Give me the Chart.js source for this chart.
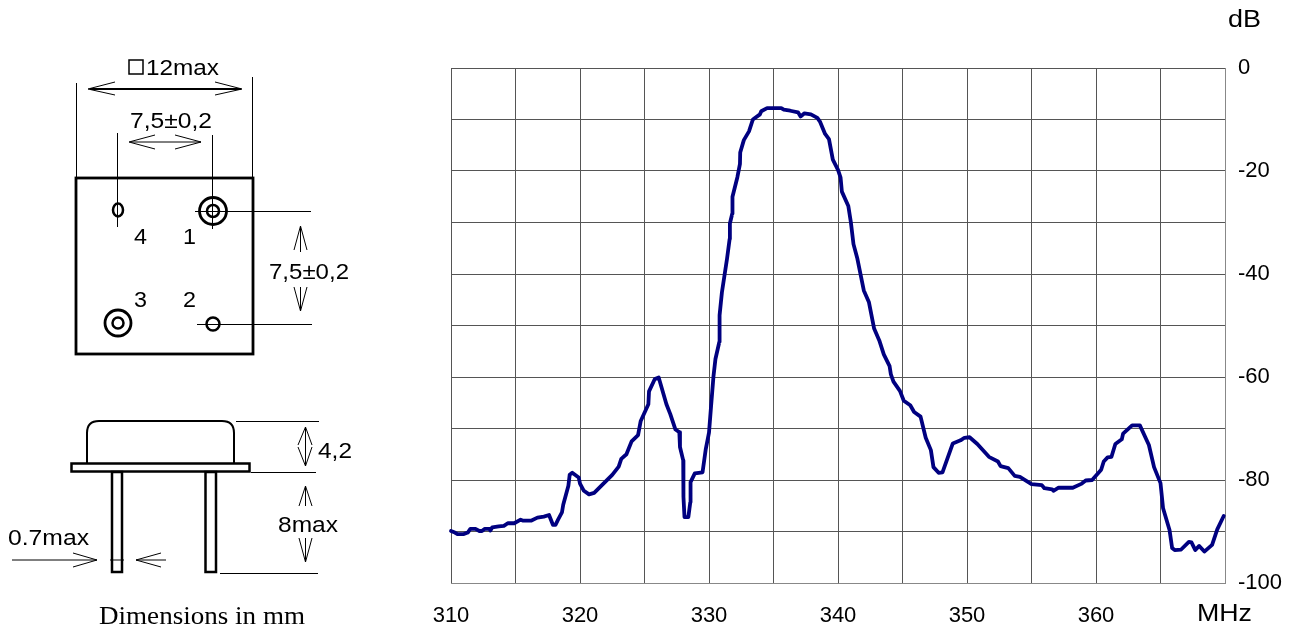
<!DOCTYPE html>
<html><head><meta charset="utf-8">
<script src="https://cdn.jsdelivr.net/npm/chart.js@4"></script>
<style>
html,body{margin:0;padding:0;background:#fff;width:1301px;height:628px;overflow:hidden}
#wrap{position:relative;width:1301px;height:628px}
canvas{position:absolute;left:0;top:0}
svg{position:absolute;left:0;top:0}
svg text{font-family:"Liberation Sans",Arial,sans-serif;font-size:22px;fill:#000;stroke:none}
</style></head><body>
<div id="wrap">
<canvas id="c" width="1301" height="628"></canvas>
<svg width="1301" height="628" viewBox="0 0 1301 628" fill="none" stroke="#000" stroke-width="1">
  <!-- top view -->
  <rect x="76" y="178" width="177" height="176" stroke-width="2.800"/>
  <path d="M76.500 83V178M252.500 77V178"/>
  <path d="M90 89H241" stroke-width="2"/>
  <path d="M115 82L88 89L115 95M215 82L242 89L215 95"/>
  <rect x="129" y="60" width="14" height="14" stroke-width="1.500"/>
  <text x="146" y="75" textLength="73" lengthAdjust="spacingAndGlyphs">12max</text>
  <text x="130" y="128" textLength="82" lengthAdjust="spacingAndGlyphs">7,5±0,2</text>
  <path d="M131 142H201"/>
  <path d="M155 135L129 142L155 149M175 135L201 142L175 149"/>
  <path d="M117.500 133V227M212.500 135V229"/>
  <ellipse cx="118" cy="210" rx="5" ry="6.500" stroke-width="2.500"/>
  <circle cx="213" cy="211" r="13.500" stroke-width="2.800"/>
  <circle cx="213" cy="211" r="6" stroke-width="2.500"/>
  <path d="M195 211.500H311"/>
  <circle cx="118" cy="323" r="13" stroke-width="2.800"/>
  <circle cx="118" cy="323" r="5.500" stroke-width="2.500"/>
  <circle cx="213" cy="324" r="6.500" stroke-width="2.500"/>
  <path d="M197 324.500H312"/>
  <text x="134" y="244" textLength="13" lengthAdjust="spacingAndGlyphs">4</text>
  <text x="183" y="244" textLength="13" lengthAdjust="spacingAndGlyphs">1</text>
  <text x="134" y="307" textLength="13" lengthAdjust="spacingAndGlyphs">3</text>
  <text x="183" y="307" textLength="13" lengthAdjust="spacingAndGlyphs">2</text>
  <path d="M300.500 226V252M300.500 287V311"/>
  <path d="M294 250L300.500 226L307 250M294 287L300.500 311L307 287"/>
  <text x="269" y="279" textLength="80" lengthAdjust="spacingAndGlyphs">7,5±0,2</text>
  <!-- side view -->
  <path d="M87 463V433Q87 421 99 421H222Q234 421 234 433V463" stroke-width="2"/>
  <rect x="71.500" y="463.500" width="178" height="8" stroke-width="2.500"/>
  <rect x="112" y="472" width="10" height="100" stroke-width="2.500"/>
  <rect x="205.500" y="472" width="10.500" height="100" stroke-width="2.500"/>
  <path d="M236 421.500H319M251 472.500H316M220 573.500H318"/>
  <path d="M305.500 427V466"/>
  <path d="M298 445L305.500 427L312 445M298 447L305.500 466L312 447"/>
  <text x="318" y="458" textLength="34" lengthAdjust="spacingAndGlyphs">4,2</text>
  <path d="M305.500 486V506M305.500 538V562"/>
  <path d="M299 506L305.500 486L312 506M299 538L305.500 562L312 538"/>
  <text x="278" y="532" textLength="60" lengthAdjust="spacingAndGlyphs">8max</text>
  <text x="8" y="545" textLength="81" lengthAdjust="spacingAndGlyphs">0.7max</text>
  <path d="M12 560H97M110 560H124M136 560H166"/>
  <path d="M73 553L97 560L73 567M161 553L136 560L161 567"/>
  <text x="99" y="624" textLength="206" lengthAdjust="spacingAndGlyphs" style="font-family:'Liberation Serif',serif;font-size:25px">Dimensions in mm</text>
  <!-- axis units -->
  <text x="1228" y="27" textLength="33" lengthAdjust="spacingAndGlyphs" style="font-size:23px">dB</text>
  <text x="1197" y="621" textLength="55" lengthAdjust="spacingAndGlyphs" style="font-size:24px">MHz</text>
</svg>
</div>
<script>
const frequencyMHz = [
310,310.3,310.5,311,311.3,311.5,311.9,312.2,312.4,312.6,313,313.05,313.2,313.7,314.1,314.4,314.9,
315.4,315.6,316.2,316.7,317.2,317.6,317.9,318.1,318.3,318.6,318.7,319.1,319.2,319.4,319.9,320,320.3,320.7,
321.1,321.7,322.5,323,323.2,323.6,324,324.5,324.7,325.3,325.35,325.8,326.1,326.7,327,327.4,327.7,327.75,
328,328.02,328.1,328.4,328.55,328.57,328.9,329.5,329.75,330,330.15,330.35,330.5,330.8,330.82,331,331.4,331.6,331.62,
331.8,331.82,332.2,332.4,332.42,332.7,333.1,333.4,333.95,334.05,334.5,335.6,335.8,336.3,336.9,337.1,337.4,337.9,
338.4,338.6,339,339.3,339.6,340,340.2,340.3,340.8,341,341.2,341.5,342,342.4,342.8,343.2,343.55,344,344.1,344.3,
344.8,345.1,345.6,345.9,346.4,346.8,347.2,347.4,347.8,348.1,348.9,349.5,349.8,350.2,350.8,351.7,352.4,352.6,
353.2,353.7,354.1,355,355.8,356,356.6,356.7,357.1,358.2,358.9,359.2,359.7,360.4,360.6,360.9,361.2,361.5,362,
362.1,362.8,363.4,364.1,364.5,365,365.2,365.7,365.9,366.1,366.6,367.2,367.4,367.7,368,368.4,369,369.4,369.9
];
const attenuationDb = [
-89.9,-90.2,-90.5,-90.5,-90.2,-89.5,-89.5,-89.9,-89.9,-89.5,-89.5,-89.8,-89.2,-89,-88.9,-88.4,-88.4,
-87.7,-87.9,-87.9,-87.3,-87.1,-86.8,-88.7,-88.7,-87.7,-86.3,-84.8,-81.1,-79,-78.6,-79.5,-80.7,-82.1,-82.8,
-82.5,-81,-79,-77.4,-75.9,-75,-72.5,-71.3,-68.6,-65.3,-62.8,-60.4,-60.1,-65.3,-67.2,-70.2,-70.7,-73.6,
-76.2,-83.3,-87.2,-87.2,-84.3,-80.4,-78.7,-78.5,-74,-70.8,-66,-59.8,-56.5,-53.2,-48,-43.6,-37,-33.2,-30.2,
-28.3,-25,-21.2,-18.6,-16.4,-14,-12.3,-10,-9,-8.4,-7.8,-7.8,-8.1,-8.3,-8.6,-9.4,-8.8,-9,
-9.7,-10.4,-12.8,-13.8,-17.8,-19.8,-21.3,-24,-26.8,-30,-34.2,-37,-43.2,-45.5,-50.6,-52.9,-55.6,-57.9,-59.5,-60.9,
-62.7,-64.6,-65.5,-66.8,-67.7,-71.8,-74.2,-77.5,-78.6,-78.5,-72.9,-72.3,-71.8,-71.7,-73,-75.5,-76.4,-77.3,
-77.7,-79.2,-79.4,-80.8,-81,-81.6,-81.8,-82.1,-81.5,-81.5,-80.7,-80.1,-80,-78,-76.4,-75.6,-75.5,-73,-72.1,
-71,-69.4,-69.4,-73.2,-77.5,-80.6,-85.5,-89.7,-93.2,-93.6,-93.5,-92,-92.1,-93.6,-92.8,-93.9,-92.6,-89.6,-87
];
const xLabelValues = [310,320,330,340,350,360];
const yLabelValues = [0,-20,-40,-60,-80,-100];

new Chart(document.getElementById('c'), {
  type: 'line',
  data: { datasets: [{
    data: frequencyMHz.map((f,i)=>({x:f,y:attenuationDb[i]})),
    borderColor:'#000080', borderWidth:3.8, pointRadius:0, tension:0, fill:false,
    borderJoinStyle:'round', borderCapStyle:'round', clip:false
  }]},
  options: {
    responsive:false, animation:false, devicePixelRatio:1,
    layout:{padding:{left:451,top:68,right:0,bottom:0}},
    plugins:{legend:{display:false},tooltip:{enabled:false},title:{display:false}},
    scales:{
      x:{type:'linear',min:310,max:370,
        afterFit(s){s.height=45;},
        grid:{color:'#555',lineWidth:1,drawTicks:false},
        border:{color:'#888',width:1},
        ticks:{stepSize:5,autoSkip:false,maxRotation:0,padding:20,color:'#000',
          font:{family:'"Liberation Sans"',size:22},
          callback:v=>xLabelValues.includes(v)?String(v):''}
      },
      y:{type:'linear',position:'right',min:-100,max:0,
        afterFit(s){s.width=76;},
        grid:{color:'#555',lineWidth:1,drawTicks:false},
        border:{color:'#888',width:1},
        ticks:{stepSize:10,autoSkip:false,padding:13,color:'#000',
          font:{family:'"Liberation Sans"',size:22},
          callback:v=>yLabelValues.includes(v)?String(v):''}
      }
    }
  }
});
</script>
</body></html>
